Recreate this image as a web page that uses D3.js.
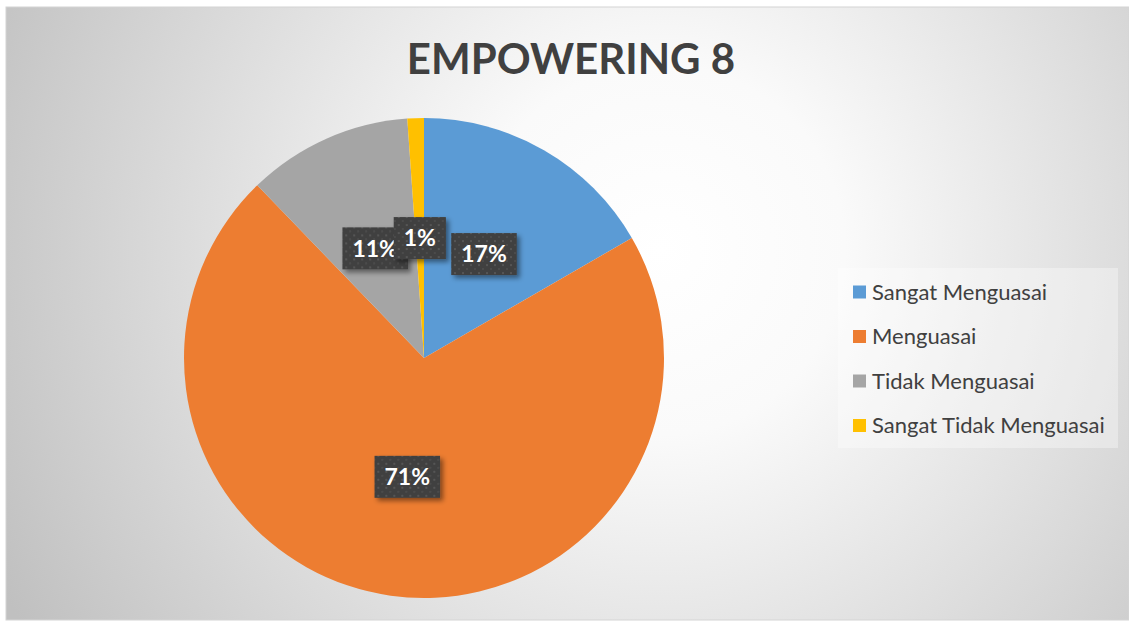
<!DOCTYPE html>
<html>
<head>
<meta charset="utf-8">
<script src="https://cdn.jsdelivr.net/npm/d3@7"></script>
<style>
  body { margin: 0; background: #fff; }
  svg { display: block; }
</style>
</head>
<body>
<div id="chart"></div>
<script>
// data (counts out of 90)
const categories = ["Sangat Menguasai", "Menguasai", "Tidak Menguasai", "Sangat Tidak Menguasai"];
const counts = [15, 64, 10, 1];
const colors = ["#5b9bd5", "#ed7d31", "#a5a5a5", "#ffc000"];
const chartTitle = "EMPOWERING 8";

const width = 1129, height = 624;
const cx = 424, cy = 358, radius = 240;

let svg = d3.select("#chart")
    .append("svg")
    .attr("width", width)
    .attr("height", height);

let defs = svg.append("defs");

let grad = defs.append("radialGradient")
    .attr("id", "bg")
    .attr("gradientUnits", "userSpaceOnUse")
    .attr("cx", 660).attr("cy", 250).attr("r", 740);
grad.append("stop").attr("offset", "0").attr("stop-color", "#ffffff");
grad.append("stop").attr("offset", "0.25").attr("stop-color", "#fafafa");
grad.append("stop").attr("offset", "1").attr("stop-color", "#c0c0c0");

let pat = defs.append("pattern")
    .attr("id", "dots")
    .attr("patternUnits", "userSpaceOnUse")
    .attr("width", 8).attr("height", 8);
pat.append("rect").attr("width", 8).attr("height", 8).attr("fill", "#404040");
pat.append("rect").attr("x", 2).attr("y", 2).attr("width", 2).attr("height", 2).attr("fill", "#555555");
pat.append("rect").attr("x", 6).attr("y", 6).attr("width", 2).attr("height", 2).attr("fill", "#4c4c4c");

let shadow = defs.append("filter").attr("id", "shadow")
    .attr("x", "-30%").attr("y", "-30%").attr("width", "160%").attr("height", "160%");
shadow.append("feDropShadow")
    .attr("dx", 3).attr("dy", 3).attr("stdDeviation", 2.5)
    .attr("flood-color", "#000").attr("flood-opacity", 0.45);

// background
svg.append("rect")
    .attr("x", 6).attr("y", 7)
    .attr("width", width - 6).attr("height", height - 11)
    .attr("fill", "url(#bg)")
    .attr("stroke", "#d4d4d4");

// title
svg.append("text")
    .attr("x", 571).attr("y", 74)
    .attr("text-anchor", "middle")
    .style("font-family", "Lato, 'Open Sans', sans-serif")
    .style("font-weight", "bold")
    .style("font-size", "42px")
    .style("fill", "#404040")
    .text(chartTitle);

let data = categories.map((c, i) => ({ name: c, value: counts[i], color: colors[i] }));
let total = d3.sum(counts);

let pie = d3.pie().sort(null).value(d => d.value);
let arcs = pie(data);
let arc = d3.arc().innerRadius(0).outerRadius(radius);
let labelArc = d3.arc().innerRadius(radius * 0.5).outerRadius(radius * 0.5);

let g = svg.append("g").attr("transform", `translate(${cx}, ${cy})`);

g.selectAll("path")
    .data(arcs)
    .enter()
    .append("path")
    .attr("d", arc)
    .attr("fill", d => d.data.color);

// data labels: dark patterned boxes
let labels = g.selectAll("g.lbl")
    .data(arcs)
    .enter()
    .append("g")
    .attr("class", "lbl")
    .attr("transform", d => `translate(${labelArc.centroid(d)})`);

labels.each(function(d) {
    let lg = d3.select(this);
    let txt = Math.round(d.data.value / total * 100) + "%";
    let t = lg.append("text")
        .attr("text-anchor", "middle")
        .attr("dy", "0.36em")
        .style("font-family", "Lato, 'Open Sans', sans-serif")
        .style("font-weight", "bold")
        .style("font-size", "23px")
        .style("fill", "#ffffff")
        .text(txt);
    let w = t.node().getComputedTextLength() + 20;
    let h = 42;
    lg.insert("rect", "text")
        .attr("x", -w / 2).attr("y", -h / 2)
        .attr("width", w).attr("height", h)
        .attr("fill", "url(#dots)")
        .attr("filter", "url(#shadow)");
});

// legend
let legend = svg.append("g").attr("transform", "translate(838, 268)");
legend.append("rect")
    .attr("width", 280).attr("height", 180)
    .attr("fill", "#ffffff")
    .attr("fill-opacity", 0.35);

let rows = legend.selectAll("g.row")
    .data(data)
    .enter()
    .append("g")
    .attr("class", "row")
    .attr("transform", (d, i) => `translate(15, ${24 + i * 44.5})`);

rows.append("rect")
    .attr("x", 0).attr("y", -6.5)
    .attr("width", 13).attr("height", 13)
    .attr("fill", d => d.color);

rows.append("text")
    .attr("x", 19).attr("dy", "0.35em")
    .style("font-family", "Lato, 'Open Sans', sans-serif")
    .style("font-size", "22px")
    .style("fill", "#404040")
    .text(d => d.name);
</script>
</body>
</html>
